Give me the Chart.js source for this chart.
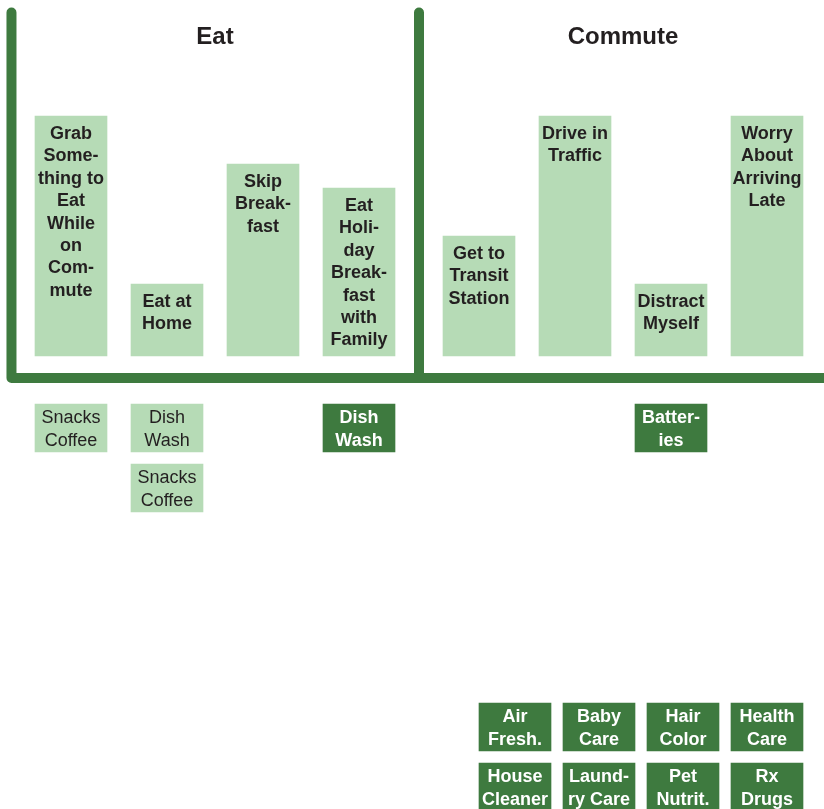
<!DOCTYPE html>
<html>
<head>
<meta charset="utf-8">
<script src="https://cdn.jsdelivr.net/npm/chart.js@4"></script>
<style>
  html, body { margin: 0; padding: 0; background: #fff; }
  canvas { display: block; }
</style>
</head>
<body>
<canvas id="model" width="824" height="809"></canvas>
<script>
/* ═══ Mental model — towers above the line, support below ═══ */

const groups = ['Eat', 'Commute'];

const towerLabels = [
  'Grab\nSome-\nthing to\nEat\nWhile\non\nCom-\nmute',
  'Eat at\nHome',
  'Skip\nBreak-\nfast',
  'Eat\nHoli-\nday\nBreak-\nfast\nwith\nFamily',
  'Get to\nTransit\nStation',
  'Drive in\nTraffic',
  'Distract\nMyself',
  'Worry\nAbout\nArriving\nLate',
];
const towerGroup = [0, 0, 0, 0, 1, 1, 1, 1];
const towerHeights = [10, 3, 8, 7, 5, 10, 3, 10];

// support boxes under the line: which tower, which row, strong or not
const supportLabels = ['Snacks\nCoffee', 'Dish\nWash', 'Snacks\nCoffee', 'Dish\nWash', 'Batter-\nies'];
const supportTower = [0, 1, 1, 3, 6];
const supportRow = [0, 0, 1, 0, 0];
const supportStrong = [false, false, false, true, true];

// products with no tower, bottom right
const orphanLabels = ['Air\nFresh.', 'Baby\nCare', 'Hair\nColor', 'Health\nCare',
                      'House\nCleaner', 'Laund-\nry Care', 'Pet\nNutrit.', 'Rx\nDrugs'];

const LIGHT = '#b6dbb6';
const DARK = '#3e7a3f';
const INK = '#231f20';
const FONT = "'Liberation Sans', Arial, Helvetica, sans-serif";

// layout in column units (x) and height units (y)
const GROUP_GAP = 0.25;
const colX = i => i + towerGroup[i] * GROUP_GAP;
const BOX = 2;            // support box height
const ROW_STEP = 2.5;
const ORPHAN_STEP = 0.875;
const ORPHAN_TOP = -14.46;

const towerData = towerHeights.map((h, i) => ({ x: colX(i), y: [0, h] }));
const supportData = supportLabels.map((_, i) => {
  const top = -2 - supportRow[i] * ROW_STEP;
  return { x: colX(supportTower[i]), y: [top - BOX, top] };
});
const pick = (arr, strong) => arr.filter((_, i) => supportStrong[i] === strong);
const orphanData = orphanLabels.map((_, i) => {
  const col = i % 4, row = Math.floor(i / 4);
  const top = ORPHAN_TOP - row * ROW_STEP;
  return { x: colX(7) - (3 - col) * ORPHAN_STEP, y: [top - BOX, top] };
});

/** Frame: left wall, floor, divider between groups */
const framePlugin = {
  id: 'frame',
  beforeDatasetsDraw(chart) {
    const { ctx, scales: { x, y }, width } = chart;
    const wallX = x.getPixelForValue(-0.62);
    const top = y.getPixelForValue(14.31);
    const floor = y.getPixelForValue(-0.917);
    const divX = x.getPixelForValue((colX(3) + colX(4)) / 2);
    ctx.save();
    ctx.strokeStyle = DARK;
    ctx.lineWidth = 10;
    ctx.lineCap = 'round';
    ctx.lineJoin = 'round';
    ctx.beginPath();
    ctx.moveTo(wallX, top);
    ctx.lineTo(wallX, floor);
    ctx.lineTo(width + 10, floor);
    ctx.moveTo(divX, top);
    ctx.lineTo(divX, floor);
    ctx.stroke();

    // group titles
    ctx.fillStyle = INK;
    ctx.font = `bold 24px ${FONT}`;
    ctx.textAlign = 'center';
    ctx.textBaseline = 'middle';
    groups.forEach((g, gi) => {
      const idx = towerGroup.map((t, i) => t === gi ? i : -1).filter(i => i >= 0);
      const mid = (colX(idx[0]) + colX(idx[idx.length - 1])) / 2;
      ctx.fillText(g, x.getPixelForValue(mid), 37);
    });
    ctx.restore();
  },
};

/** Box labels, written into each bar */
const labelPlugin = {
  id: 'boxLabels',
  afterDatasetsDraw(chart) {
    const { ctx } = chart;
    ctx.save();
    ctx.textAlign = 'center';
    ctx.textBaseline = 'alphabetic';
    chart.data.datasets.forEach((ds, di) => {
      const meta = chart.getDatasetMeta(di);
      const st = ds.textStyle;
      ctx.font = st.font;
      ctx.fillStyle = st.color;
      meta.data.forEach((el, j) => {
        const text = ds.labels[j];
        if (!text) return;
        const topY = Math.min(el.y, el.base);
        text.split('\n').forEach((line, k) => {
          ctx.fillText(line, el.x, topY + st.first + k * st.step);
        });
      });
    });
    ctx.restore();
  },
};

new Chart(document.getElementById('model'), {
  type: 'bar',
  data: {
    datasets: [
      {
        data: towerData, labels: towerLabels, backgroundColor: LIGHT,
        textStyle: { font: `bold 18px ${FONT}`, color: INK, first: 23, step: 22.4 },
      },
      {
        data: pick(supportData, false), labels: pick(supportLabels, false), backgroundColor: LIGHT,
        textStyle: { font: `18px ${FONT}`, color: INK, first: 19, step: 23 },
      },
      {
        data: pick(supportData, true), labels: pick(supportLabels, true), backgroundColor: DARK,
        textStyle: { font: `bold 18px ${FONT}`, color: '#ffffff', first: 19, step: 23 },
      },
      {
        data: orphanData, labels: orphanLabels, backgroundColor: DARK,
        textStyle: { font: `bold 18px ${FONT}`, color: '#ffffff', first: 19, step: 22.5 },
      },
    ],
  },
  options: {
    responsive: false,
    animation: false,
    events: [],
    grouped: false,
    barThickness: 72,
    borderWidth: 0,
    borderSkipped: false,
    layout: { padding: 0 },
    plugins: { legend: { display: false }, tooltip: { enabled: false } },
    scales: {
      x: { type: 'linear', display: false, offset: false, min: -71 / 96, max: (824 - 71) / 96 },
      y: { display: false, offset: false, min: -453 / 24, max: 356 / 24 },
    },
  },
  plugins: [framePlugin, labelPlugin],
});
</script>
</body>
</html>
